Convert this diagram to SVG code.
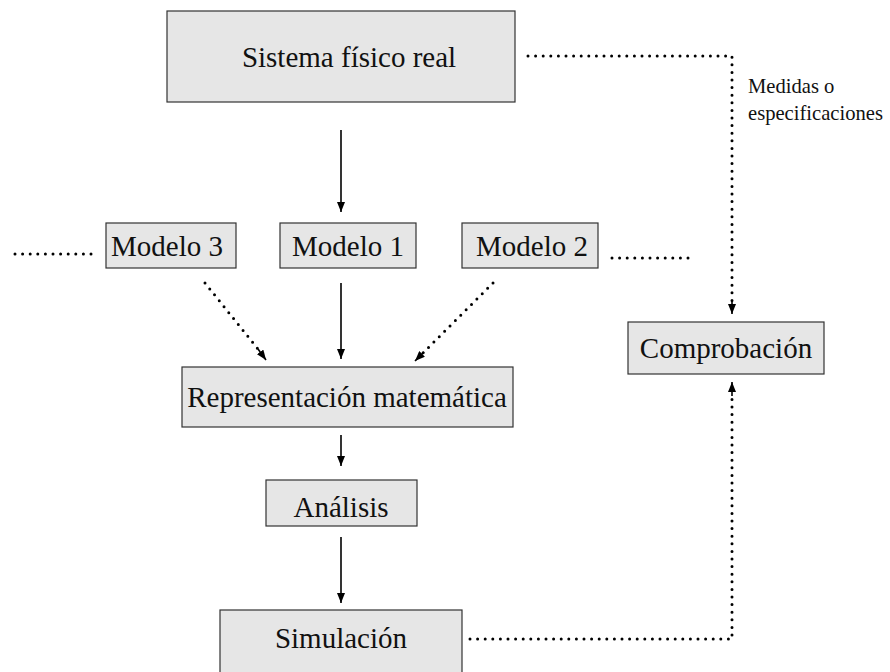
<svg xmlns="http://www.w3.org/2000/svg" width="890" height="672" viewBox="0 0 890 672">
<style>
.box{fill:#e6e6e6;stroke:#333;stroke-width:1.2}
.t{font-family:"Liberation Serif","Times New Roman",serif;font-size:29px;fill:#111;text-anchor:middle}
.s{font-family:"Liberation Serif","Times New Roman",serif;font-size:20.6px;fill:#111}
.solid{stroke:#000;stroke-width:1.6;fill:none}
.dot{stroke:#000;stroke-width:3;stroke-linecap:round;stroke-dasharray:0 7.6;fill:none}
</style>
<defs>
<marker id="ah" viewBox="0 0 10 8" refX="10" refY="4" markerWidth="10" markerHeight="8" markerUnits="userSpaceOnUse" orient="auto">
<path d="M0,0 L10,4 L0,8 Z" fill="#000"/>
</marker>
</defs>
<rect width="890" height="672" fill="#fff"/>
<g id="connectors">
<line class="solid" x1="341" y1="130" x2="341" y2="212" marker-end="url(#ah)"/>
<line class="solid" x1="341" y1="283" x2="341" y2="359" marker-end="url(#ah)"/>
<line class="solid" x1="341" y1="435" x2="341" y2="466" marker-end="url(#ah)"/>
<line class="solid" x1="341" y1="537" x2="341" y2="603" marker-end="url(#ah)"/>
<line class="dot" x1="205" y1="283" x2="262" y2="354"/>
<line class="solid" x1="258" y1="349" x2="266" y2="360" marker-end="url(#ah)"/>
<line class="dot" x1="493" y1="283" x2="420" y2="356"/>
<line class="solid" x1="424" y1="352" x2="415" y2="361" marker-end="url(#ah)"/>
<line class="dot" x1="15" y1="254" x2="92" y2="254"/>
<line class="dot" x1="612" y1="258" x2="688" y2="258"/>
<polyline class="dot" points="528,56 732,56 732,304"/>
<line class="solid" x1="732" y1="300" x2="732" y2="314" marker-end="url(#ah)"/>
<polyline class="dot" points="470,639 732,639 732,392"/>
<line class="solid" x1="732" y1="396" x2="732" y2="382" marker-end="url(#ah)"/>
<text class="s" x="748" y="93">Medidas o</text>
<text class="s" x="748" y="120">especificaciones</text>
</g>
<g id="sistema">
<rect class="box" x="167" y="11" width="348" height="91"/>
<text class="t" x="349" y="67">Sistema físico real</text>
</g>
<g id="modelo3">
<rect class="box" x="106" y="223" width="130" height="45"/>
<text class="t" x="167" y="256">Modelo 3</text>
</g>
<g id="modelo1">
<rect class="box" x="280" y="223" width="136" height="45"/>
<text class="t" x="348" y="256">Modelo 1</text>
</g>
<g id="modelo2">
<rect class="box" x="462" y="223" width="136" height="45"/>
<text class="t" x="532" y="256">Modelo 2</text>
</g>
<g id="representacion">
<rect class="box" x="182" y="367" width="331" height="60"/>
<text class="t" x="347" y="407">Representación matemática</text>
</g>
<g id="analisis">
<rect class="box" x="266" y="480" width="151" height="46"/>
<text class="t" x="341" y="517">Análisis</text>
</g>
<g id="simulacion">
<rect class="box" x="220" y="610" width="242" height="80"/>
<text class="t" x="341" y="648">Simulación</text>
</g>
<g id="comprobacion">
<rect class="box" x="628" y="322" width="196" height="52"/>
<text class="t" x="726" y="358">Comprobación</text>
</g>
</svg>
